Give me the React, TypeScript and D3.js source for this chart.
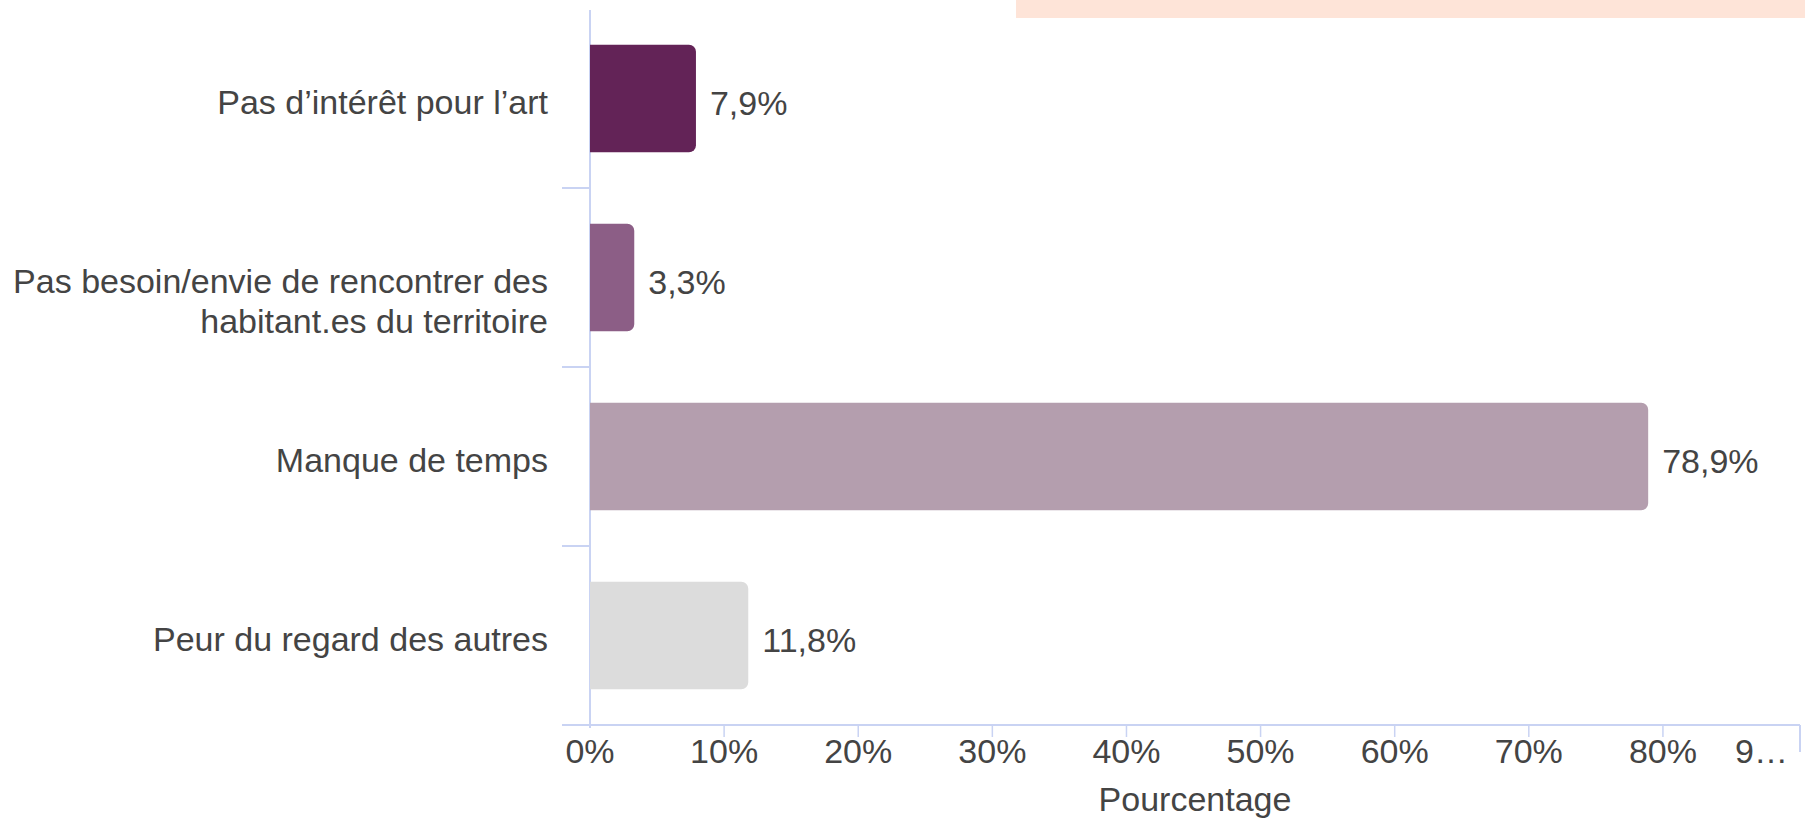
import React from "react";
import * as d3 from "d3";

const categories: string[][] = [
  ["Pas d\u2019intérêt pour l\u2019art"],
  ["Pas besoin/envie de rencontrer des", "habitant.es du territoire"],
  ["Manque de temps"],
  ["Peur du regard des autres"],
];
const values: number[] = [7.9, 3.3, 78.9, 11.8];
const valueLabels: string[] = ["7,9%", "3,3%", "78,9%", "11,8%"];
const barColors: string[] = ["#632357", "#8c5e86", "#b49eae", "#dcdcdc"];
const xTicks: number[] = [0, 10, 20, 30, 40, 50, 60, 70, 80, 90];
const xTickLabels: string[] = ["0%", "10%", "20%", "30%", "40%", "50%", "60%", "70%", "80%", "9\u2026"];
const xTitle = "Pourcentage";

const W = 1805;
const H = 826;
const FONT = "'Liberation Sans', Arial, sans-serif";
const FS = 34;
const TEXT = "#444444";
const AXIS = "#c9d3f3";

function barPath(x0: number, x1: number, y0: number, h: number, r: number) {
  const p = d3.path();
  const rr = Math.min(r, (x1 - x0) / 2, h / 2);
  p.moveTo(x0, y0);
  p.lineTo(x1 - rr, y0);
  p.arcTo(x1, y0, x1, y0 + rr, rr);
  p.lineTo(x1, y0 + h - rr);
  p.arcTo(x1, y0 + h, x1 - rr, y0 + h, rr);
  p.lineTo(x0, y0 + h);
  p.closePath();
  return p.toString();
}

export default function App() {
  const x = d3.scaleLinear().domain([0, 90.22]).range([590, 1800]);
  const ids = categories.map((_, i) => String(i));
  const y = d3.scaleBand<string>().domain(ids).range([9, 725]).padding(0);
  const step = y.bandwidth();
  const barH = step * 0.6;
  const axisY = 725;

  return (
    <svg
      width={W}
      height={H}
      style={{ position: "absolute", left: 0, top: 0, background: "#ffffff" }}
      fontFamily={FONT}
    >
      <rect x={1016} y={0} width={W - 1016} height={18} fill="#fee4d8" />

      {/* y axis */}
      <line x1={590} x2={590} y1={10} y2={728} stroke={AXIS} strokeWidth={2} />
      {ids.slice(1).map((id) => (
        <line key={"sep" + id} x1={562} x2={590} y1={y(id)!} y2={y(id)!} stroke={AXIS} strokeWidth={2} />
      ))}
      {/* x axis */}
      <line x1={562} x2={1800} y1={axisY} y2={axisY} stroke={AXIS} strokeWidth={2} />
      {xTicks.slice(1, -1).map((t) => (
        <line key={"xt" + t} x1={x(t)} x2={x(t)} y1={axisY} y2={axisY + 12} stroke={AXIS} strokeWidth={1.5} />
      ))}
      <line x1={1800} x2={1800} y1={axisY} y2={axisY + 27} stroke={AXIS} strokeWidth={2} />

      {xTicks.map((t, i) => {
        const last = i === xTicks.length - 1;
        return (
          <text
            key={"xl" + t}
            x={last ? 1788 : x(t)}
            y={763}
            textAnchor={last ? "end" : "middle"}
            fontSize={FS}
            fill={TEXT}
          >
            {xTickLabels[i]}
          </text>
        );
      })}
      <text x={(590 + 1800) / 2} y={811} textAnchor="middle" fontSize={FS} fill={TEXT}>
        {xTitle}
      </text>

      {values.map((v, i) => {
        const cy = y(ids[i])! + step / 2;
        const x0 = x(0);
        const x1 = x(v);
        return (
          <g key={"bar" + i}>
            <path d={barPath(x0, x1, cy - barH / 2, barH, 7)} fill={barColors[i]} />
            <text x={x1 + 14} y={cy + 16} fontSize={FS} fill={TEXT}>
              {valueLabels[i]}
            </text>
            <text x={548} y={cy + 15} textAnchor="end" fontSize={FS} fill={TEXT}>
              {categories[i].map((line, j) => (
                <tspan key={j} x={548} dy={j === 0 ? 0 : 40}>
                  {line}
                </tspan>
              ))}
            </text>
          </g>
        );
      })}
    </svg>
  );
}
